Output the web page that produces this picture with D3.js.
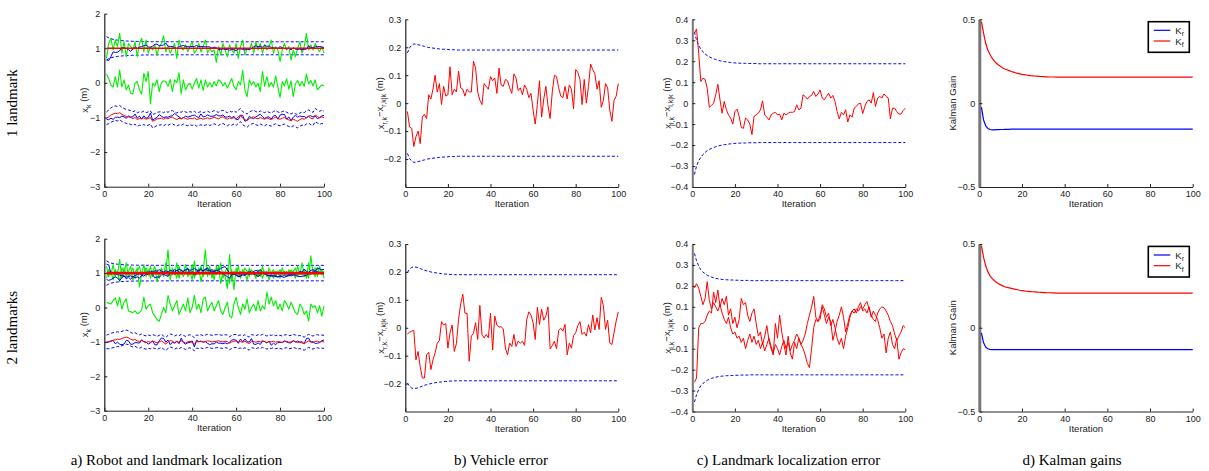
<!DOCTYPE html>
<html>
<head>
<meta charset="utf-8">
<script src="https://cdn.jsdelivr.net/npm/d3@7"></script>
<style>
	body { margin: 0; background: #fff; }
	svg { display: block; }
	.tick text { font-family: "Liberation Sans", Arial, sans-serif; font-size: 9px; fill: #222; }
	.lbl { font-family: "Liberation Sans", Arial, sans-serif; font-size: 9.5px; fill: #222; }
	.cap { font-family: "Liberation Serif", "Times New Roman", serif; font-size: 15px; fill: #000; }
</style>
</head>
<body>
<svg id="chart" width="1209" height="471"></svg>
<script>
let iteration = d3.range(1, 101);
let xTicks = [0, 20, 40, 60, 80, 100];
let landmarkPos = 1;
let captions = ["a) Robot and landmark localization", "b) Vehicle error", "c) Landmark localization error", "d) Kalman gains"];
let rowLabels = ["1 landmark", "2 landmarks"];

// ---- 1 landmark ----
let robotEst1 = [
	-1.02,-0.98,-0.93,-0.9,-0.875,-0.89,-0.86,-0.91,-0.94,-0.97,
	-0.98,-1.0,-1.03,-1.0,-1.06,-1.03,-1.04,-1.01,-1.05,-1.03,
	-1.0,-1.11,-1.08,-1.04,-1.03,-1.02,-1.05,-1.01,-1.04,-1.0,
	-0.99,-1.03,-1.06,-1.02,-1.04,-1.0,-1.03,-1.05,-1.02,-1.04,
	-1.01,-1.06,-1.04,-1.02,-1.05,-1.03,-1.01,-1.04,-1.02,-0.99,
	-1.02,-1.04,-1.0,-0.98,-1.02,-1.05,-1.01,-1.03,-1.0,-1.04,
	-0.98,-0.93,-1.02,-1.06,-1.09,-1.03,-1.0,-0.98,-1.02,-1.04,
	-1.0,-1.03,-1.05,-1.01,-1.04,-1.06,-1.02,-0.99,-1.03,-1.05,
	-1.02,-1.0,-1.04,-1.07,-1.09,-1.05,-1.08,-1.11,-1.06,-1.03,
	-1.05,-1.0,-0.97,-1.02,-1.04,-0.93,-0.97,-1.01,-0.98,-1.01];
let robotErr1 = [
	-0.03,-0.085,-0.09,-0.155,-0.12,-0.10,-0.145,-0.05,-0.04,-0.055,
	0.03,0.015,0.05,0.10,0.04,0.07,-0.005,0.06,0.025,0.03,
	0.13,0.03,0.05,0.04,0.115,0.055,0.05,0.025,0.05,0.04,
	0.04,0.15,0.125,0.04,0.01,-0.005,0.07,0.06,0.05,0.095,
	0.08,0.09,0.035,0.125,0.065,0.06,0.085,0.08,0.055,0.035,
	0.105,0.09,0.045,0.055,0.03,0.065,0.05,0.02,0.035,-0.025,
	-0.075,-0.005,0.08,-0.05,0.015,0.06,-0.01,-0.055,0.04,0.10,
	0.095,0.055,0.025,0.02,0.06,0.015,0.065,0.05,-0.02,0.12,
	0.11,0.085,-0.005,0.085,0.0,0.06,0.14,0.12,0.105,0.05,
	0.08,-0.015,0.01,0.07,0.055,-0.025,-0.065,0.01,0.025,0.07];
let robotSig1 = [
	0.18,0.198,0.207,0.212,0.211,0.209,0.207,0.205,0.203,0.201,
	0.199,0.198,0.197,0.196,0.195,0.194,0.193,0.193,0.192,0.192,
	0.191,0.191,0.191,0.19,0.19,0.19,0.19,0.19,0.19,0.19,
	0.19,0.19,0.19,0.19,0.19,0.19,0.19,0.19,0.19,0.19,
	0.19,0.19,0.19,0.19,0.19,0.19,0.19,0.19,0.19,0.19,
	0.19,0.19,0.19,0.19,0.19,0.19,0.19,0.19,0.19,0.19,
	0.19,0.19,0.19,0.19,0.19,0.19,0.19,0.19,0.19,0.19,
	0.19,0.19,0.19,0.19,0.19,0.19,0.19,0.19,0.19,0.19,
	0.19,0.19,0.19,0.19,0.19,0.19,0.19,0.19,0.19,0.19,
	0.19,0.19,0.19,0.19,0.19,0.19,0.19,0.19,0.19,0.19];
let robotMeas1 = [
	0.26,0.13,-0.06,-0.12,0.18,-0.12,0.37,-0.12,0.09,-0.2,
	-0.06,-0.3,-0.32,-0.01,0.04,-0.2,-0.32,0.28,0.04,0.33,
	-0.6,-0.01,-0.09,0.09,-0.25,0.01,0.06,0.04,-0.1,0.1,
	-0.25,0.09,0.01,0.3,-0.32,0.09,-0.2,-0.06,-0.01,-0.18,
	-0.01,0.13,-0.15,0.09,-0.22,0.09,-0.12,0.01,-0.12,0.04,
	-0.09,0.09,0.04,-0.09,0.01,-0.15,-0.01,0.13,-0.1,-0.2,
	0.04,-0.06,0.36,-0.2,-0.4,0.09,-0.06,0.04,-0.12,-0.01,
	-0.25,0.33,-0.1,0.18,-0.12,0.01,-0.12,0.2,-0.12,-0.42,
	0.04,-0.09,0.12,-0.18,0.06,-0.4,-0.03,0.07,-0.09,0.04,
	-0.1,0.26,-0.03,0.07,-0.09,0.09,-0.2,-0.12,-0.06,-0.09];
let lmErr1 = [
	0.333,0.354,0.238,0.103,0.119,0.114,0.071,-0.02,-0.011,0.0,
	0.04,0.09,0.016,-0.048,0.008,-0.032,-0.056,-0.071,-0.1,-0.04,
	-0.029,-0.063,-0.116,-0.12,-0.071,-0.08,-0.1,-0.15,-0.063,-0.056,
	-0.048,-0.032,0.011,-0.056,-0.067,-0.08,-0.056,-0.048,-0.044,-0.056,
	-0.052,-0.08,-0.048,-0.056,-0.048,-0.043,-0.044,-0.04,-0.008,-0.032,
	-0.024,0.04,0.032,0.019,0.032,0.037,0.056,0.032,0.044,0.063,
	0.024,0.016,0.032,0.048,0.024,0.037,0.008,-0.04,-0.075,-0.044,
	-0.056,-0.032,-0.09,-0.056,-0.067,-0.024,-0.016,-0.003,0.0,-0.05,
	-0.016,0.008,0.016,0.0,0.05,-0.016,0.024,0.032,0.024,0.044,
	0.032,0.024,-0.075,-0.024,-0.024,-0.04,-0.052,-0.052,-0.035,-0.024];
let lmSig1 = [
	0.34,0.3,0.275,0.258,0.245,0.235,0.227,0.221,0.216,0.212,
	0.208,0.205,0.202,0.2,0.198,0.197,0.195,0.194,0.193,0.192,
	0.191,0.191,0.19,0.19,0.19,0.189,0.189,0.189,0.189,0.189,
	0.188,0.188,0.188,0.188,0.188,0.188,0.188,0.188,0.188,0.188,
	0.188,0.188,0.188,0.188,0.188,0.188,0.188,0.188,0.188,0.188,
	0.188,0.188,0.188,0.188,0.188,0.188,0.188,0.188,0.188,0.188,
	0.188,0.188,0.188,0.188,0.188,0.188,0.188,0.188,0.188,0.188,
	0.188,0.188,0.188,0.188,0.188,0.188,0.188,0.188,0.188,0.188,
	0.188,0.188,0.188,0.188,0.188,0.188,0.188,0.188,0.188,0.188,
	0.188,0.188,0.188,0.188,0.188,0.188,0.188,0.188,0.188,0.188];
let lmMeas1 = [
	0.71,1.14,1.29,0.95,1.24,1.05,1.43,0.86,1.19,0.76,
	1.14,1.05,0.95,1.19,0.76,1.14,1.29,0.9,1.24,0.86,
	1.05,0.95,1.1,0.81,1.05,1.14,1.36,0.9,1.05,0.86,
	1.0,1.14,0.71,1.24,1.0,0.95,1.1,0.9,1.05,1.19,
	0.86,0.95,1.14,0.9,1.05,1.24,0.86,1.0,0.9,0.95,
	0.59,1.05,0.81,1.14,0.95,0.76,1.1,0.95,0.86,1.14,
	0.71,1.05,1.24,0.81,1.0,0.95,1.14,0.86,1.19,0.95,
	1.14,0.86,1.1,0.95,1.05,1.24,0.86,1.05,0.95,0.62,
	0.95,1.14,0.95,1.05,0.66,0.95,0.76,1.0,1.19,0.86,
	1.05,1.43,0.95,1.1,0.95,1.14,1.0,0.9,1.05,0.86];
let kr1 = [
	-0.024,-0.1,-0.135,-0.151,-0.157,-0.159,-0.159,-0.158,-0.158,-0.157,
	-0.157,-0.156,-0.156,-0.156,-0.155,-0.155,-0.155,-0.155,-0.155,-0.155,
	-0.155,-0.155,-0.155,-0.155,-0.155,-0.155,-0.155,-0.155,-0.155,-0.155,
	-0.155,-0.155,-0.155,-0.155,-0.155,-0.155,-0.155,-0.155,-0.155,-0.155,
	-0.155,-0.155,-0.155,-0.155,-0.155,-0.155,-0.155,-0.155,-0.155,-0.155,
	-0.155,-0.155,-0.155,-0.155,-0.155,-0.155,-0.155,-0.155,-0.155,-0.155,
	-0.155,-0.155,-0.155,-0.155,-0.155,-0.155,-0.155,-0.155,-0.155,-0.155,
	-0.155,-0.155,-0.155,-0.155,-0.155,-0.155,-0.155,-0.155,-0.155,-0.155,
	-0.155,-0.155,-0.155,-0.155,-0.155,-0.155,-0.155,-0.155,-0.155,-0.155,
	-0.155,-0.155,-0.155,-0.155,-0.155,-0.155,-0.155,-0.155,-0.155,-0.155];
let kf1 = [
	0.486,0.417,0.357,0.317,0.29,0.268,0.252,0.238,0.227,0.218,
	0.21,0.204,0.199,0.194,0.189,0.185,0.181,0.178,0.175,0.172,
	0.17,0.168,0.166,0.164,0.163,0.162,0.161,0.16,0.159,0.158,
	0.157,0.157,0.156,0.156,0.156,0.155,0.155,0.155,0.155,0.155,
	0.155,0.155,0.155,0.155,0.155,0.155,0.155,0.155,0.155,0.155,
	0.155,0.155,0.155,0.155,0.155,0.155,0.155,0.155,0.155,0.155,
	0.155,0.155,0.155,0.155,0.155,0.155,0.155,0.155,0.155,0.155,
	0.155,0.155,0.155,0.155,0.155,0.155,0.155,0.155,0.155,0.155,
	0.155,0.155,0.155,0.155,0.155,0.155,0.155,0.155,0.155,0.155,
	0.155,0.155,0.155,0.155,0.155,0.155,0.155,0.155,0.155,0.155];

// ---- 2 landmarks ----
let robotEst2 = [
	-1.0,-0.99,-0.97,-0.95,-0.94,-0.92,-0.93,-0.9,-0.88,-0.86,
	-0.88,-0.92,-0.95,-0.93,-0.97,-0.99,-0.96,-1.0,-1.02,-0.99,
	-1.01,-0.98,-1.0,-1.03,-1.0,-0.97,-1.02,-1.06,-1.0,-0.96,
	-0.98,-1.02,-0.99,-1.01,-0.97,-1.0,-1.03,-1.0,-0.98,-1.02,
	-1.07,-0.99,-1.0,-0.98,-1.01,-0.99,-0.97,-0.98,-1.0,-0.99,
	-0.98,-0.97,-0.99,-1.0,-0.98,-0.99,-1.04,-1.0,-0.98,-0.97,
	-1.0,-0.99,-1.01,-0.98,-1.02,-1.05,-0.98,-0.99,-1.01,-0.98,
	-1.0,-0.97,-0.99,-1.02,-0.99,-1.0,-0.98,-1.01,-0.99,-1.0,
	-1.02,-0.99,-0.98,-1.01,-1.0,-0.97,-0.99,-1.02,-1.0,-1.03,
	-1.05,-1.01,-0.97,-1.0,-1.02,-0.99,-0.98,-1.0,-0.99,-1.0];
let robotErr2 = [
	-0.022,-0.016,-0.012,-0.01,-0.115,-0.085,-0.14,-0.18,-0.18,-0.097,
	-0.088,-0.15,-0.115,-0.09,-0.055,-0.046,0.022,0.01,0.015,-0.073,
	-0.018,0.01,-0.085,-0.057,0.03,0.085,0.12,0.052,0.052,-0.12,
	-0.03,-0.02,0.018,-0.042,0.08,-0.024,-0.036,-0.024,-0.036,0.052,
	-0.08,0.042,0.01,0.002,0.004,-0.004,-0.073,-0.097,-0.055,-0.067,
	-0.024,-0.067,-0.048,-0.055,-0.048,-0.063,0.028,0.057,0.045,0.018,
	-0.042,0.073,0.012,0.067,0.027,0.042,0.075,-0.076,-0.064,-0.048,
	-0.075,-0.01,-0.002,-0.012,0.012,-0.097,-0.055,-0.073,-0.028,-0.018,
	0.008,0.022,-0.024,-0.016,-0.03,0.011,-0.018,0.046,-0.008,0.036,
	-0.006,0.109,0.079,-0.006,0.027,-0.055,-0.06,-0.018,0.024,0.057];
let robotSig2 = [
	0.198,0.21,0.216,0.218,0.217,0.215,0.212,0.209,0.206,0.204,
	0.202,0.2,0.198,0.197,0.196,0.195,0.194,0.193,0.192,0.192,
	0.191,0.191,0.19,0.19,0.19,0.19,0.19,0.19,0.19,0.19,
	0.19,0.19,0.19,0.19,0.19,0.19,0.19,0.19,0.19,0.19,
	0.19,0.19,0.19,0.19,0.19,0.19,0.19,0.19,0.19,0.19,
	0.19,0.19,0.19,0.19,0.19,0.19,0.19,0.19,0.19,0.19,
	0.19,0.19,0.19,0.19,0.19,0.19,0.19,0.19,0.19,0.19,
	0.19,0.19,0.19,0.19,0.19,0.19,0.19,0.19,0.19,0.19,
	0.19,0.19,0.19,0.19,0.19,0.19,0.19,0.19,0.19,0.19,
	0.19,0.19,0.19,0.19,0.19,0.19,0.19,0.19,0.19,0.19];
let robotMeas2 = [
	0.15,0.12,0.1,0.2,0.28,0.05,0.3,-0.05,0.15,0.25,
	-0.1,-0.12,-0.15,-0.1,-0.18,-0.15,-0.08,0.3,-0.05,0.05,
	0.1,-0.15,-0.25,-0.35,-0.4,-0.2,0.0,-0.15,0.35,0.1,
	-0.1,0.05,0.2,-0.2,-0.05,0.1,-0.1,0.28,-0.15,0.0,
	0.35,-0.05,0.1,-0.15,0.25,0.3,-0.1,0.05,0.15,-0.1,
	0.05,0.2,-0.1,-0.2,0.0,0.15,-0.25,-0.3,0.1,0.3,
	0.0,-0.2,0.1,-0.05,0.25,-0.15,0.0,0.1,-0.1,0.2,
	-0.1,0.05,-0.05,0.45,0.1,0.3,0.05,0.2,-0.05,0.1,
	-0.1,0.2,0.1,-0.05,0.15,0.0,-0.15,-0.2,0.1,0.0,
	-0.2,-0.1,-0.4,0.1,0.0,0.05,-0.15,0.05,-0.25,0.05];
let lmErr2a = [
	0.19,0.21,0.19,0.15,0.11,0.14,0.22,0.13,0.09,0.12,
	0.1,0.08,0.11,0.07,0.04,0.02,0.05,0.0,-0.03,-0.02,
	-0.05,-0.04,-0.07,-0.05,-0.1,-0.06,-0.03,-0.07,-0.04,-0.08,
	-0.06,-0.1,-0.07,-0.11,-0.08,-0.05,-0.09,-0.12,-0.08,-0.1,
	-0.13,-0.09,-0.06,-0.1,-0.07,-0.11,-0.08,-0.06,-0.03,-0.05,
	-0.08,-0.1,-0.13,-0.17,-0.19,-0.1,0.0,0.04,0.03,0.06,
	0.1,0.06,0.02,0.05,0.03,-0.06,-0.02,0.03,0.06,0.1,
	0.05,-0.02,0.02,0.06,0.08,0.07,0.09,0.08,0.1,0.09,
	0.11,0.125,0.09,0.06,0.04,0.03,0.07,0.09,0.1,0.095,
	0.08,0.06,0.03,0.01,-0.03,-0.06,-0.04,-0.02,0.01,0.0];
let lmErr2b = [
	-0.26,-0.24,0.0,0.02,0.02,0.03,0.06,0.08,0.07,0.17,
	0.12,0.18,0.1,0.14,0.11,0.15,0.06,0.09,0.02,0.05,
	0.0,0.04,0.14,0.11,0.12,0.06,0.03,0.07,0.09,0.02,
	-0.04,-0.02,-0.08,-0.04,0.01,-0.06,-0.1,-0.13,0.02,-0.05,
	0.06,-0.02,-0.08,-0.13,-0.04,-0.12,-0.15,-0.07,-0.1,-0.05,
	-0.08,-0.06,-0.03,0.02,0.06,0.1,0.15,0.05,0.03,0.04,
	0.11,0.09,0.05,0.07,0.01,0.04,0.0,-0.05,-0.08,-0.05,
	-0.1,-0.04,0.0,0.05,0.08,0.09,0.07,0.1,0.12,0.08,
	0.09,0.07,0.1,0.05,0.08,0.06,0.04,0.0,-0.05,-0.03,
	-0.12,-0.05,-0.02,-0.08,-0.1,-0.05,-0.15,-0.12,-0.1,-0.105];
let lmSig2 = [
	0.355,0.32,0.295,0.277,0.266,0.258,0.251,0.246,0.242,0.239,
	0.236,0.234,0.232,0.231,0.23,0.229,0.229,0.228,0.228,0.227,
	0.227,0.227,0.226,0.226,0.226,0.226,0.225,0.225,0.225,0.225,
	0.225,0.225,0.225,0.225,0.225,0.225,0.225,0.225,0.225,0.225,
	0.225,0.225,0.225,0.225,0.225,0.225,0.225,0.225,0.225,0.225,
	0.225,0.225,0.225,0.225,0.225,0.225,0.225,0.225,0.225,0.225,
	0.225,0.225,0.225,0.225,0.225,0.225,0.225,0.225,0.225,0.225,
	0.225,0.225,0.225,0.225,0.225,0.225,0.225,0.225,0.225,0.225,
	0.225,0.225,0.225,0.225,0.225,0.225,0.225,0.225,0.225,0.225,
	0.225,0.225,0.225,0.225,0.225,0.225,0.225,0.225,0.225,0.225];
let lmMeas2a = [
	1.2,0.9,1.05,0.8,1.1,0.95,1.4,0.85,1.15,0.9,
	1.05,1.2,0.8,1.0,1.15,0.6,0.95,1.25,0.9,1.1,
	0.85,1.05,1.2,0.75,1.0,1.1,0.9,1.05,1.68,0.8,
	1.15,0.95,1.3,0.85,1.1,1.0,1.25,0.9,1.05,0.8,
	1.35,0.95,1.15,0.75,1.05,1.68,0.9,1.2,0.85,1.1,
	0.95,1.2,0.7,1.05,0.9,0.55,1.55,0.8,1.05,0.95,
	1.2,0.85,1.1,1.0,0.8,1.15,0.95,1.05,0.85,1.1,
	0.9,1.2,0.95,1.05,0.8,1.0,1.1,0.9,1.05,0.85,
	1.15,0.95,1.05,0.9,1.1,1.0,0.85,1.2,0.95,1.3,
	0.9,1.05,0.85,1.5,1.0,0.9,1.15,1.0,1.1,0.85];
let lmMeas2b = [
	0.85,1.1,0.95,1.25,0.9,1.05,0.75,1.15,1.0,1.3,
	0.9,1.0,1.15,0.85,1.05,1.2,0.9,1.0,1.15,0.95,
	1.2,0.9,1.05,1.1,0.85,1.15,0.95,1.3,0.9,1.1,
	0.95,1.05,0.85,1.2,1.0,0.9,1.05,1.15,0.95,1.25,
	0.85,1.1,1.0,1.2,0.9,1.05,1.15,0.95,1.1,0.8,
	1.2,1.0,1.3,0.85,1.05,1.15,0.7,1.1,0.52,1.15,
	0.9,1.05,0.95,1.15,1.05,0.9,1.1,0.95,1.0,0.9,
	1.1,0.85,1.05,0.9,1.15,0.95,0.85,1.05,1.0,1.1,
	0.95,1.05,0.9,1.1,0.95,1.05,1.15,0.9,1.05,0.95,
	1.1,0.85,1.3,0.95,1.05,1.15,0.9,1.2,0.95,1.05];
let kr2 = [
	-0.03,-0.09,-0.115,-0.125,-0.13,-0.131,-0.131,-0.131,-0.131,-0.131,
	-0.13,-0.13,-0.13,-0.13,-0.13,-0.13,-0.13,-0.13,-0.13,-0.13,
	-0.13,-0.13,-0.13,-0.13,-0.13,-0.13,-0.13,-0.13,-0.13,-0.13,
	-0.13,-0.13,-0.13,-0.13,-0.13,-0.13,-0.13,-0.13,-0.13,-0.13,
	-0.13,-0.13,-0.13,-0.13,-0.13,-0.13,-0.13,-0.13,-0.13,-0.13,
	-0.13,-0.13,-0.13,-0.13,-0.13,-0.13,-0.13,-0.13,-0.13,-0.13,
	-0.13,-0.13,-0.13,-0.13,-0.13,-0.13,-0.13,-0.13,-0.13,-0.13,
	-0.13,-0.13,-0.13,-0.13,-0.13,-0.13,-0.13,-0.13,-0.13,-0.13,
	-0.13,-0.13,-0.13,-0.13,-0.13,-0.13,-0.13,-0.13,-0.13,-0.13,
	-0.13,-0.13,-0.13,-0.13,-0.13,-0.13,-0.13,-0.13,-0.13,-0.13];
let kf2 = [
	0.49,0.42,0.37,0.335,0.31,0.295,0.282,0.272,0.263,0.256,
	0.25,0.245,0.241,0.238,0.235,0.232,0.229,0.227,0.224,0.222,
	0.22,0.218,0.217,0.216,0.215,0.214,0.213,0.212,0.211,0.21,
	0.21,0.209,0.209,0.208,0.208,0.207,0.207,0.207,0.207,0.207,
	0.207,0.207,0.207,0.207,0.207,0.207,0.207,0.207,0.207,0.207,
	0.207,0.207,0.207,0.207,0.207,0.207,0.207,0.207,0.207,0.207,
	0.207,0.207,0.207,0.207,0.207,0.207,0.207,0.207,0.207,0.207,
	0.207,0.207,0.207,0.207,0.207,0.207,0.207,0.207,0.207,0.207,
	0.207,0.207,0.207,0.207,0.207,0.207,0.207,0.207,0.207,0.207,
	0.207,0.207,0.207,0.207,0.207,0.207,0.207,0.207,0.207,0.207];

let svg = d3.select("#chart");
let columns = [[104.3, 324], [405.3, 618.3], [692.3, 905.3], [979.3, 1192.7]];

function makePanel(box, yDomain, yTicks, spineWidth, spineColor) {
	let g = svg.append("g");
	let x = d3.scaleLinear().domain([0, 100]).range([box.left, box.right]);
	let y = d3.scaleLinear().domain(yDomain).range([box.bottom, box.top]);

	let xAxis = g.append("g")
		.attr("transform", "translate(0," + box.bottom + ")")
		.call(d3.axisBottom(x).tickValues(xTicks).tickSizeInner(-3).tickSizeOuter(0).tickPadding(4).tickFormat(d3.format("d")));
	let yAxis = g.append("g")
		.attr("transform", "translate(" + box.left + ",0)")
		.call(d3.axisLeft(y).tickValues(yTicks).tickSizeInner(-3).tickSizeOuter(0).tickPadding(4).tickFormat(d3.format("~g")));

	xAxis.select(".domain").attr("stroke", "#222");
	xAxis.selectAll(".tick line").attr("stroke", "#222");
	yAxis.selectAll(".tick line").attr("stroke", "#222");
	yAxis.select(".domain").attr("stroke", spineColor).attr("stroke-width", spineWidth);

	g.append("text")
		.attr("class", "lbl")
		.attr("x", (box.left + box.right) / 2)
		.attr("y", box.bottom + 20)
		.attr("text-anchor", "middle")
		.text("Iteration");

	return { g: g, x: x, y: y, box: box };
}

function addLine(p, values, color, width, dashed) {
	let line = d3.line()
		.x(function(d, i) { return p.x(iteration[i]); })
		.y(function(d) { return p.y(d); });
	p.g.append("path")
		.datum(values)
		.attr("fill", "none")
		.attr("stroke", color)
		.attr("stroke-width", width)
		.attr("stroke-dasharray", dashed ? "3,2" : null)
		.attr("stroke-linejoin", "round")
		.attr("d", line);
}

// parts: list of [text, isSubscript]
function yLabel(p, offset, parts) {
	let cy = (p.box.top + p.box.bottom) / 2;
	let t = p.g.append("text")
		.attr("class", "lbl")
		.attr("text-anchor", "middle")
		.attr("transform", "translate(" + (p.box.left - offset) + "," + cy + ") rotate(-90)");
	let low = false;
	parts.forEach(function(part) {
		let s = t.append("tspan").text(part[0]);
		if(part[1] && !low) { s.attr("dy", "0.35em").style("font-size", "7px"); low = true; }
		else if(part[1]) { s.style("font-size", "7px"); }
		else if(low) { s.attr("dy", "-0.35em"); low = false; }
	});
}

function drawRow(rowIdx, top, topA, bottom, bottomA, d) {
	// a) robot and landmark localization
	let pa = makePanel({ left: columns[0][0], right: columns[0][1], top: topA, bottom: bottomA }, [-3, 2], [-3, -2, -1, 0, 1, 2], 1.2, "#222");
	let lmUpper = d.lmSig.map(function(s) { return landmarkPos + s; });
	let lmLower = d.lmSig.map(function(s) { return landmarkPos - s; });
	let rUpper = d.robotEst.map(function(v, i) { return v + d.robotSig[i]; });
	let rLower = d.robotEst.map(function(v, i) { return v - d.robotSig[i]; });
	let robotTrue = d.robotEst.map(function(v, i) { return v + d.robotErr[i]; });
	let lmTrue = iteration.map(function() { return landmarkPos; });

	addLine(pa, lmUpper, "#0000ff", 1, true);
	addLine(pa, lmLower, "#0000ff", 1, true);
	addLine(pa, rUpper, "#0000ff", 1, true);
	addLine(pa, rLower, "#0000ff", 1, true);
	d.lmMeas.forEach(function(m) { addLine(pa, m, "#00ee00", 1.1); });
	addLine(pa, d.robotMeas, "#00ee00", 1.1);
	d.lmErrs.forEach(function(e) {
		addLine(pa, e.map(function(v) { return landmarkPos - v; }), "#0000ff", 1);
	});
	addLine(pa, robotTrue, "#0000ff", 1);
	addLine(pa, lmTrue, "#ff0000", d.lmErrs.length > 1 ? 2.6 : 1.6);
	addLine(pa, d.robotEst, "#ff0000", 1);
	yLabel(pa, 16, [["x", false], ["k", true], [" (m)", false]]);

	// b) vehicle error
	let pb = makePanel({ left: columns[1][0], right: columns[1][1], top: top, bottom: bottom }, [-0.3, 0.3], [-0.2, -0.1, 0, 0.1, 0.2, 0.3], 1.2, "#222");
	addLine(pb, d.robotSig, "#0000ff", 1, true);
	addLine(pb, d.robotSig.map(function(s) { return -s; }), "#0000ff", 1, true);
	addLine(pb, d.robotErr, "#ff0000", 1);
	yLabel(pb, 21, [["x", false], ["r,k", true], ["\u2212x", false], ["r,k|k", true], [" (m)", false]]);

	// c) landmark localization error
	let pc = makePanel({ left: columns[2][0], right: columns[2][1], top: top, bottom: bottom }, [-0.4, 0.4], [-0.4, -0.3, -0.2, -0.1, 0, 0.1, 0.2, 0.3, 0.4], 2, "#777");
	addLine(pc, d.lmSig, "#0000ff", 1, true);
	addLine(pc, d.lmSig.map(function(s) { return -s; }), "#0000ff", 1, true);
	d.lmErrs.forEach(function(e) { addLine(pc, e, "#ff0000", 1); });
	yLabel(pc, 21, [["x", false], ["l,k", true], ["\u2212x", false], ["l,k|k", true], [" (m)", false]]);

	// d) Kalman gains
	let pd = makePanel({ left: columns[3][0], right: columns[3][1], top: top, bottom: bottom }, [-0.5, 0.5], [-0.5, 0, 0.5], 3, "#777");
	addLine(pd, d.kr, "#0000ff", 1.2);
	addLine(pd, d.kf, "#ff0000", 1.2);
	yLabel(pd, 23, [["Kalman Gain", false]]);

	let lx = pd.box.right - 44.4;
	let ly = pd.box.top + 2.4;
	pd.g.append("rect")
		.attr("x", lx).attr("y", ly)
		.attr("width", 41).attr("height", 30.6)
		.attr("fill", "#fff").attr("stroke", "#000").attr("stroke-width", 1.6);
	[["r", "#0000ff"], ["f", "#ff0000"]].forEach(function(item, i) {
		let yy = ly + 8.6 + i * 10.7;
		pd.g.append("line")
			.attr("x1", lx + 5.5).attr("x2", lx + 22)
			.attr("y1", yy).attr("y2", yy)
			.attr("stroke", item[1]).attr("stroke-width", 1.2);
		let t = pd.g.append("text").attr("class", "lbl").attr("x", lx + 27).attr("y", yy + 3.5);
		t.append("tspan").text("K");
		t.append("tspan").attr("dy", "0.35em").style("font-size", "7px").text(item[0]);
	});

	svg.append("text")
		.attr("class", "cap")
		.attr("text-anchor", "middle")
		.attr("transform", "translate(17," + ((top + bottom) / 2) + ") rotate(-90)")
		.text(rowLabels[rowIdx]);
}

drawRow(0, 19.3, 13.7, 187, 186.7, {
	robotEst: robotEst1, robotErr: robotErr1, robotSig: robotSig1, robotMeas: robotMeas1,
	lmErrs: [lmErr1], lmSig: lmSig1, lmMeas: [lmMeas1], kr: kr1, kf: kf1
});
drawRow(1, 244, 238.7, 411.5, 410.7, {
	robotEst: robotEst2, robotErr: robotErr2, robotSig: robotSig2, robotMeas: robotMeas2,
	lmErrs: [lmErr2a, lmErr2b], lmSig: lmSig2, lmMeas: [lmMeas2a, lmMeas2b], kr: kr2, kf: kf2
});

// captions under each column
let capX = [176.5, 501, 788.5, 1072];
svg.selectAll(".capline")
	.data(captions)
	.enter()
	.append("text")
	.attr("class", "cap")
	.attr("text-anchor", "middle")
	.attr("x", function(d, i) { return capX[i]; })
	.attr("y", 465)
	.text(function(d) { return d; });
</script>
</body>
</html>
